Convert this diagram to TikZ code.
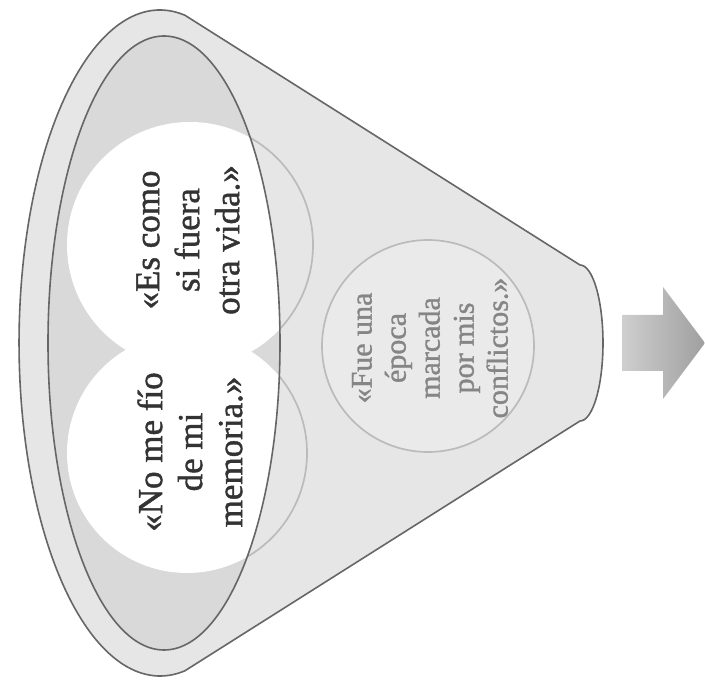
\documentclass[tikz,border=0pt]{standalone}
\usepackage{fontspec}
\setmainfont{Liberation Serif}
\newfontfamily\quotefont{Liberation Serif}[BoldFont={Liberation Serif},BoldFeatures={FakeBold=1.2}]
\definecolor{bodyfill}{HTML}{E6E6E6}
\definecolor{innerfill}{HTML}{D9D9D9}
\definecolor{edgecol}{HTML}{666666}
\definecolor{circedge}{HTML}{BBBBBB}
\definecolor{darktext}{HTML}{333333}
\definecolor{lighttext}{HTML}{858585}
\begin{document}
\begin{tikzpicture}[x=1pt,y=1pt,
  outline/.style={draw=edgecol,line width=1.6pt},
  circline/.style={draw=circedge,line width=1.7pt},
  quote/.style={rotate=90,align=center,text=darktext,font=\quotefont\bfseries\fontsize{35}{40}\selectfont},
  quotesmall/.style={rotate=90,align=center,text=lighttext,font=\quotefont\bfseries\fontsize{30}{34}\selectfont}]
\useasboundingbox (0,0) rectangle (705,683);
\def\funnelpath{(185,667.7) arc[start angle=79.8,end angle=280.2,x radius=141pt,y radius=333pt]
  -- (580,262) arc[start angle=-90,end angle=90,x radius=23pt,y radius=78pt] -- cycle}
% funnel body
\fill[bodyfill] \funnelpath;
% inner ellipse fill
\fill[innerfill] (164,340) ellipse [x radius=116pt,y radius=307pt];
% third circle
\draw[circline,fill=bodyfill!85!white] (428,337) circle [radius=106pt];
% circle outlines outside the inner ellipse
\begin{scope}[even odd rule]
  \clip (0,0) rectangle (705,683) (164,340) ellipse [x radius=116pt,y radius=307pt];
  \draw[circline] (190,438) circle [radius=123pt];
  \draw[circline] (187,230) circle [radius=120pt];
\end{scope}
% white circles inside the inner ellipse
\begin{scope}
  \clip (164,340) ellipse [x radius=116pt,y radius=307pt];
  \fill[white] (190,438) circle [radius=123pt];
  \fill[white] (187,230) circle [radius=120pt];
\end{scope}
% outlines
\draw[outline] (164,340) ellipse [x radius=116pt,y radius=307pt];
\draw[outline,line join=round] \funnelpath;
% arrow
\shade[left color=gray!38,right color=gray!75] (622,312) -- (663,312) -- (663,284) -- (705,340)
  -- (663,396) -- (663,368) -- (622,368) -- cycle;
% texts
\node[quote] (q1) at (188,443) {«Es como\\si fuera\\otra vida.»};
\node[quote] (q2) at (190,231) {«No me fío\\de mi\\memoria.»};
\node[quotesmall] (q3) at (430,335) {«Fue una\\época\\marcada\\por mis\\conflictos.»};
\end{tikzpicture}
\end{document}
